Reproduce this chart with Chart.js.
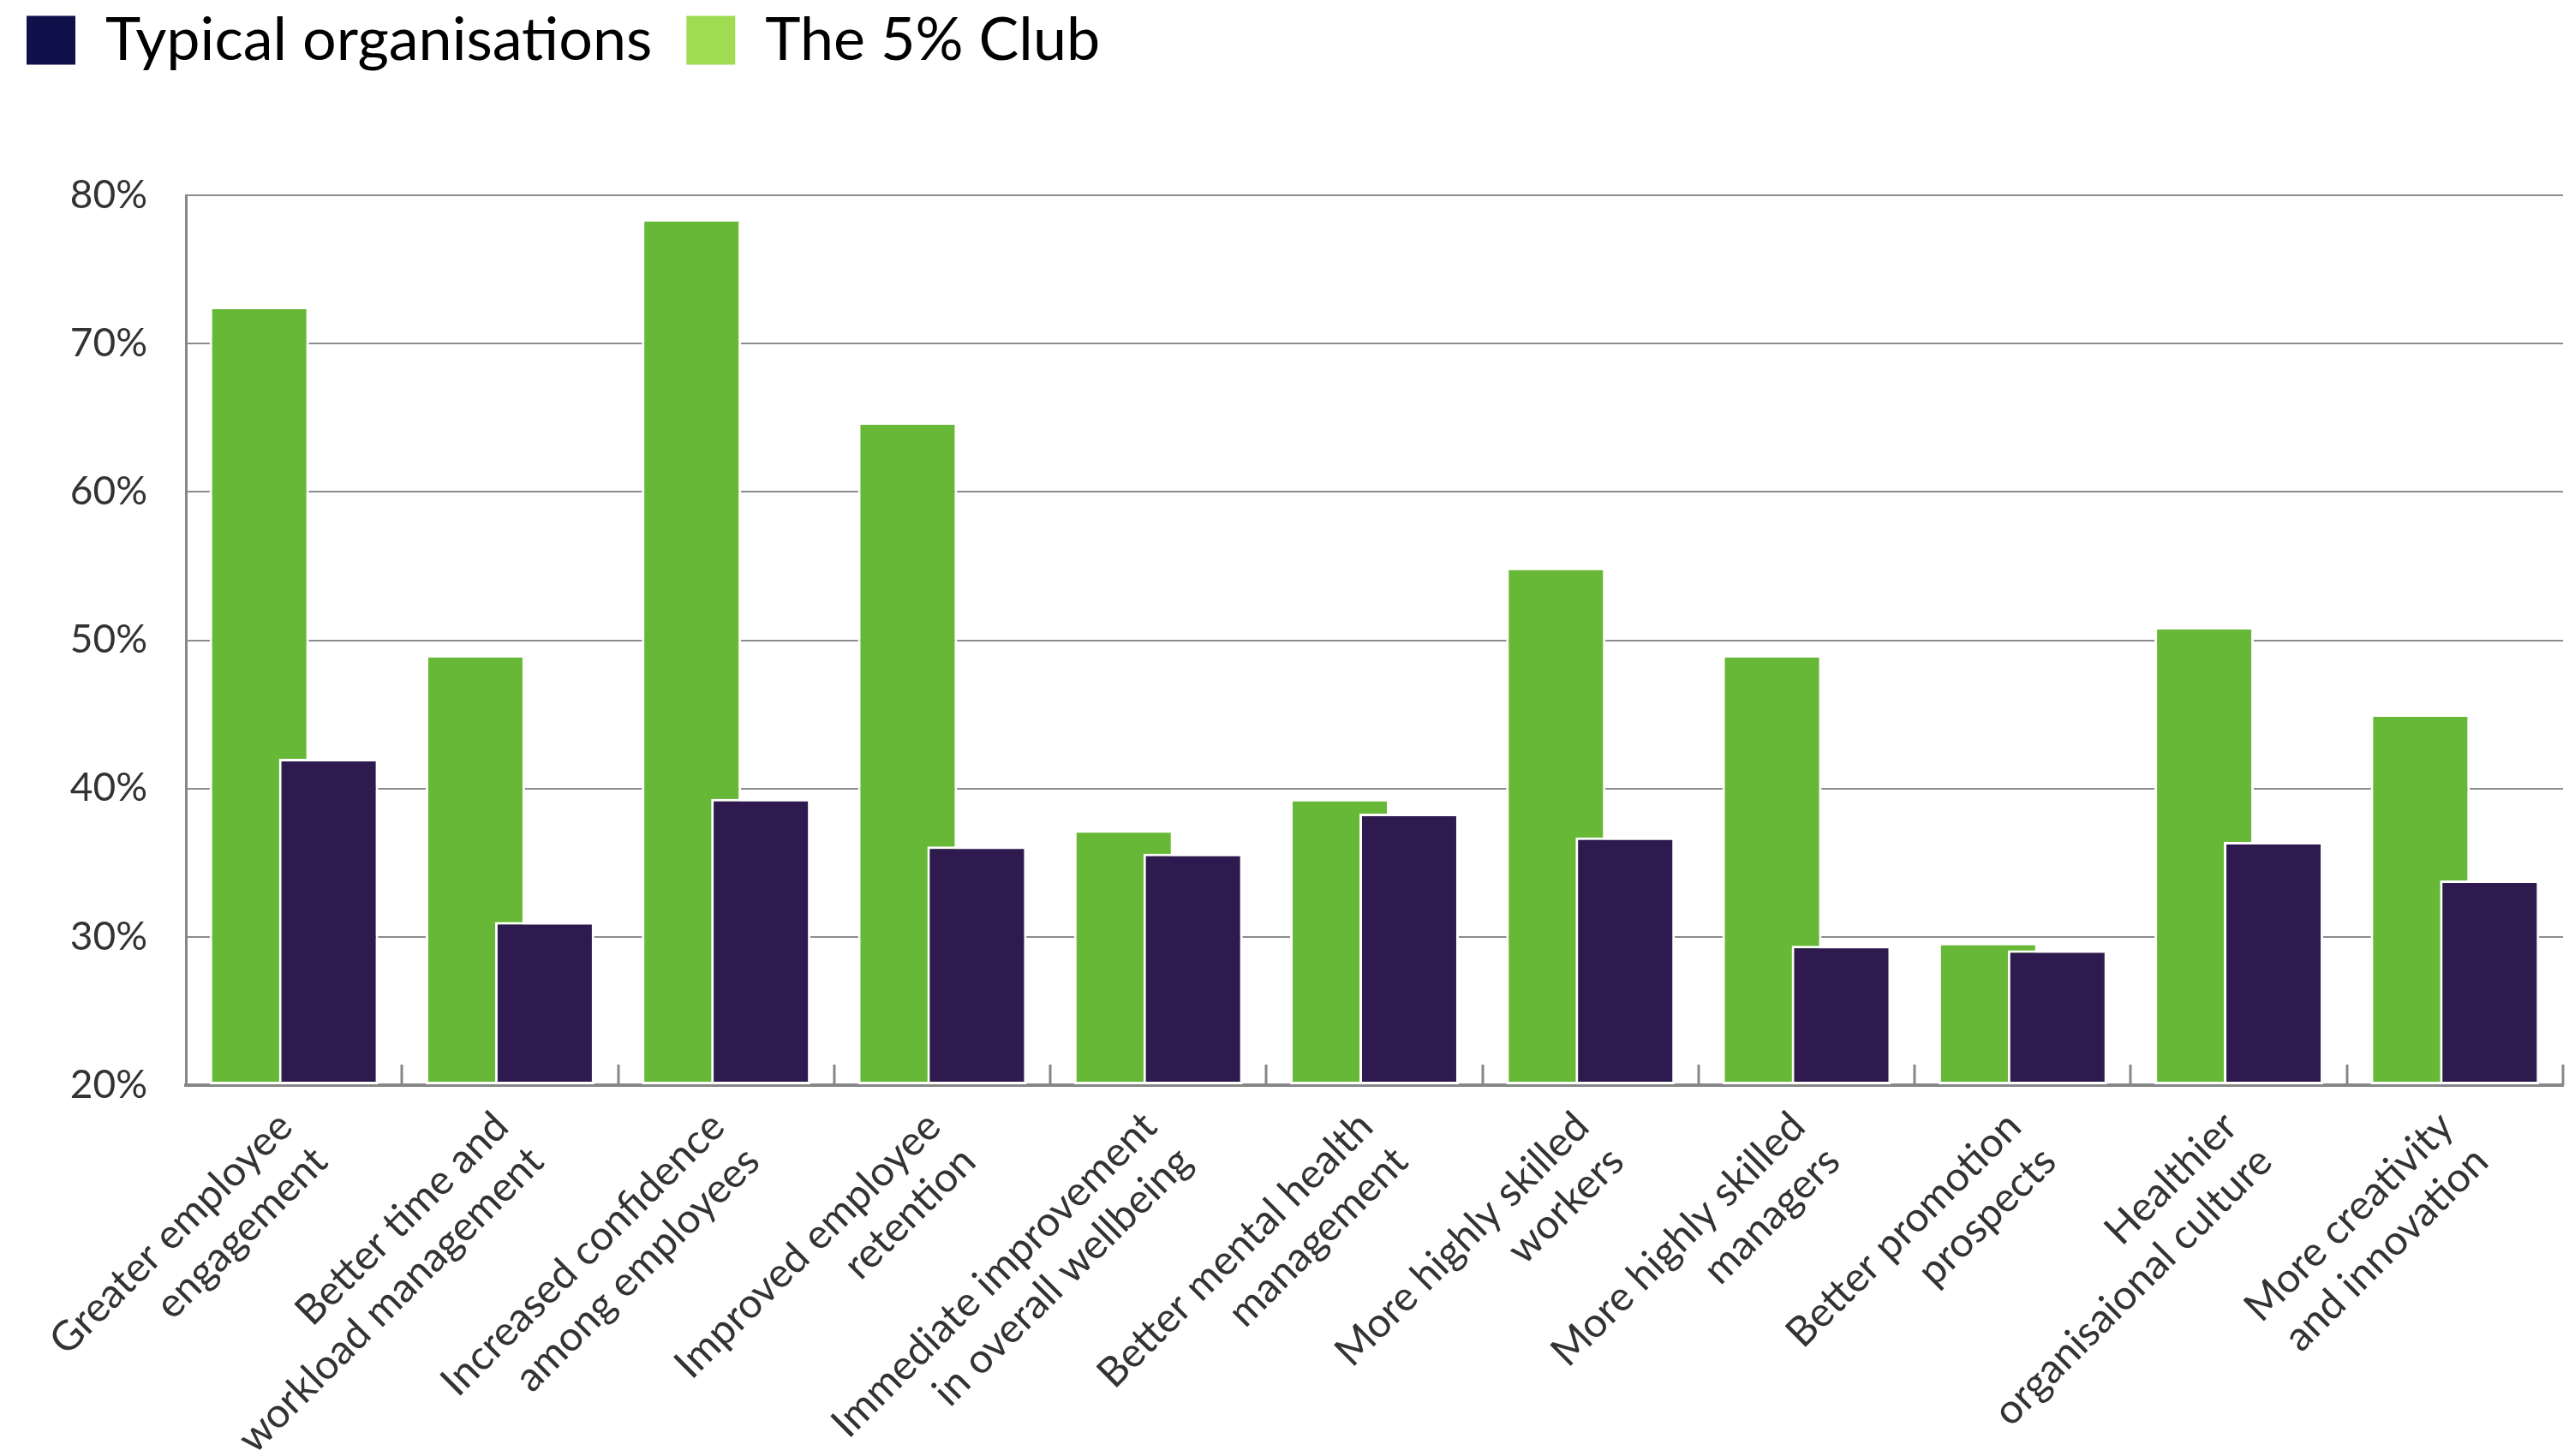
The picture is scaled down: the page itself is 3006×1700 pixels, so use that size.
<!DOCTYPE html>
<html>
<head>
<meta charset="utf-8">
<script src="https://cdn.jsdelivr.net/npm/chart.js@4.4.1/dist/chart.umd.min.js"></script>
<style>
  html, body { margin: 0; padding: 0; background: #ffffff; }
  #wrap { width: 3006px; height: 1700px; }
</style>
</head>
<body>
<div id="wrap"><canvas id="chart" width="3006" height="1700"></canvas></div>
<script>
const categories = [
    ['Greater employee', 'engagement'],
    ['Better time and', 'workload management'],
    ['Increased confidence', 'among employees'],
    ['Improved employee', 'retention'],
    ['Immediate improvement', 'in overall wellbeing'],
    ['Better mental health', 'management'],
    ['More highly skilled', 'workers'],
    ['More highly skilled', 'managers'],
    ['Better promotion', 'prospects'],
    ['Healthier', 'organisaional culture'],
    ['More creativity', 'and innovation']
];
const fivePercentClub = [72.5, 49, 78.4, 64.7, 37.2, 39.3, 54.9, 49, 29.6, 50.9, 45];
const typicalOrgs = [42, 31, 39.3, 36.1, 35.6, 38.3, 36.7, 29.4, 29.1, 36.4, 33.8];
const legendNames = ['Typical organisations', 'The 5% Club'];

const Y_MIN = 20;
const Y_MAX = 80;
const Y_STEP = 10;

const GREEN = '#67b836';
const PURPLE = '#2e1a4f';
const AXIS = '#878787';
const LEGEND_HEIGHT = 228;
const TICK_LEN = 24;

Chart.defaults.font.family = 'Lato';
Chart.defaults.color = '#333333';

// legend needs a taller box and a small nudge up/left
const legendTweak = {
    id: 'legendTweak',
    beforeLayout(chart) {
        const lg = chart.legend;
        if (!lg || lg._tweaked) {
            return;
        }
        lg._tweaked = true;
        const fit = lg.fit;
        const draw = lg.draw;
        lg.fit = function () {
            fit.call(this);
            this.height = LEGEND_HEIGHT;
        };
        lg.draw = function () {
            const c = this.ctx;
            c.save();
            c.translate(-9, -28);
            draw.call(this);
            c.restore();
        };
    }
};

// small ticks pointing up from the x axis, between the groups
const innerTicks = {
    id: 'innerTicks',
    afterDatasetsDraw(chart) {
        const x = chart.scales.x;
        const { ctx, chartArea } = chart;
        const step = x.getPixelForValue(1) - x.getPixelForValue(0);
        ctx.save();
        ctx.strokeStyle = AXIS;
        ctx.lineWidth = 3;
        for (let i = 0; i < categories.length; i++) {
            const px = Math.round(x.getPixelForValue(i) + step / 2);
            ctx.beginPath();
            ctx.moveTo(px, chartArea.bottom);
            ctx.lineTo(px, chartArea.bottom - TICK_LEN);
            ctx.stroke();
        }
        ctx.restore();
    }
};

// purple bars sit on top of the green ones
const barOrder = {
    id: 'barOrder',
    beforeDatasetsDraw(chart) {
        const { ctx, chartArea } = chart;
        ctx.save();
        ctx.beginPath();
        ctx.rect(chartArea.left, chartArea.top - 10, chartArea.width, chartArea.height + 10);
        ctx.clip();
        chart.getDatasetMeta(0).controller.draw();
        ctx.restore();
    },
    beforeDatasetDraw(chart, args) {
        if (args.index === 0) {
            return false;
        }
    }
};

function buildChart() {
    const ctx = document.getElementById('chart').getContext('2d');
    const barStyle = {
        borderColor: '#ffffff',
        borderWidth: 3,
        borderSkipped: false,
        base: Y_MIN,
        categoryPercentage: 0.642,
        barPercentage: 1.432
    };
    new Chart(ctx, {
        type: 'bar',
        data: {
            labels: categories,
            datasets: [
                Object.assign({ label: legendNames[1], data: fivePercentClub, backgroundColor: GREEN }, barStyle),
                Object.assign({ label: legendNames[0], data: typicalOrgs, backgroundColor: PURPLE }, barStyle)
            ]
        },
        options: {
            responsive: false,
            animation: false,
            devicePixelRatio: 1,
            layout: { padding: { top: 0, right: 14, bottom: 0, left: 0 } },
            plugins: {
                tooltip: { enabled: false },
                legend: {
                    position: 'top',
                    align: 'start',
                    labels: {
                        boxWidth: 57,
                        boxHeight: 57,
                        padding: 40,
                        color: '#55595e',
                        font: { size: 70 },
                        generateLabels: () => [
                            { text: legendNames[0], fillStyle: '#10104a', strokeStyle: '#10104a', lineWidth: 0, datasetIndex: 1 },
                            { text: legendNames[1], fillStyle: '#a0dc52', strokeStyle: '#a0dc52', lineWidth: 0, datasetIndex: 0 }
                        ]
                    }
                }
            },
            scales: {
                x: {
                    grid: { display: true, drawOnChartArea: false, drawTicks: false },
                    border: { color: AXIS, width: 4 },
                    ticks: {
                        minRotation: 45,
                        maxRotation: 45,
                        autoSkip: false,
                        padding: 20,
                        labelOffset: -10,
                        color: '#333333',
                        font: { size: 48 }
                    },
                    afterFit(scale) {
                        scale.height = 433;
                    }
                },
                y: {
                    min: Y_MIN,
                    max: Y_MAX,
                    ticks: {
                        stepSize: Y_STEP,
                        padding: 45,
                        color: '#333333',
                        font: { size: 46 },
                        callback: (v) => v + '%'
                    },
                    grid: { color: '#8c8c8c', lineWidth: 2, drawTicks: false },
                    border: { color: AXIS, width: 3 },
                    afterFit(scale) {
                        scale.width = 217;
                    }
                }
            }
        },
        plugins: [legendTweak, innerTicks, barOrder]
    });
}

document.fonts.load('48px Lato').then(buildChart, buildChart);
</script>
</body>
</html>
